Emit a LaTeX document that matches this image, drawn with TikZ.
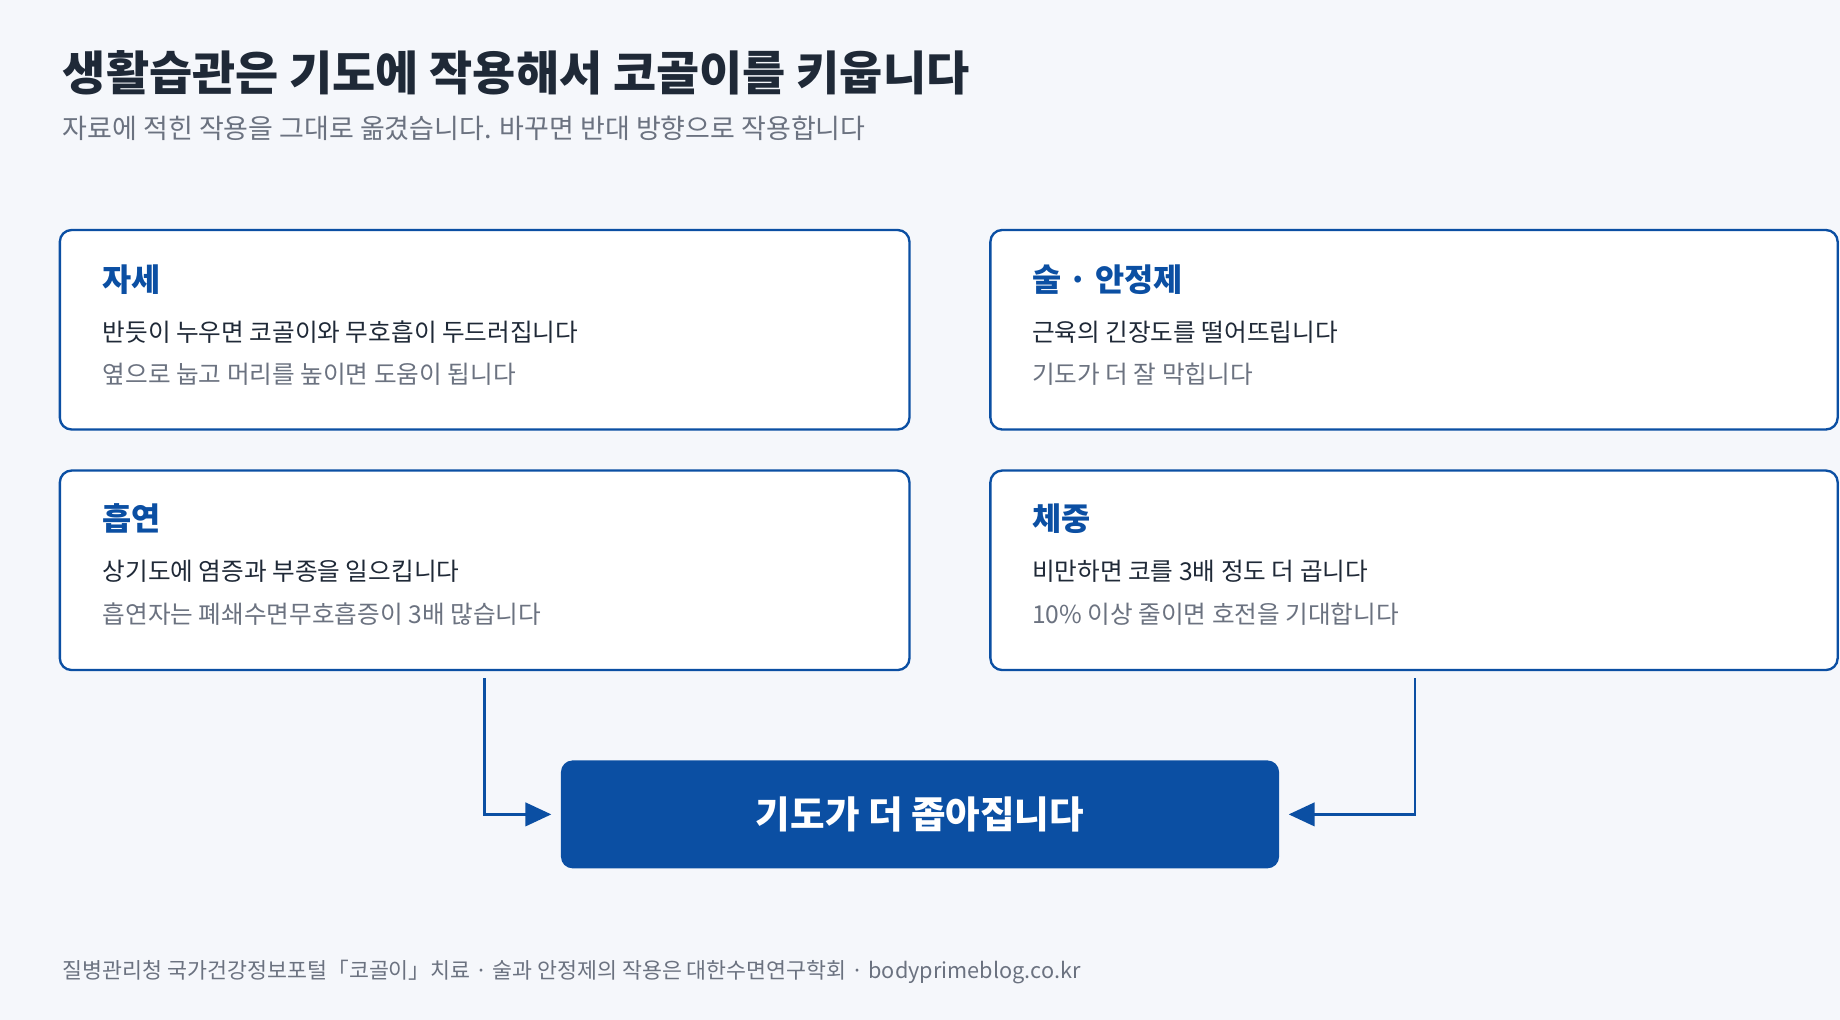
\documentclass[tikz,border=0pt]{standalone}
\usepackage{fontspec}
\setmainfont{Noto Sans CJK KR}
\usetikzlibrary{arrows.meta}
\definecolor{bg}{HTML}{F5F7FB}
\definecolor{navy}{HTML}{0B4FA3}
\definecolor{dark}{HTML}{1F2937}
\definecolor{gray}{HTML}{6B7280}
\begin{document}
\begin{tikzpicture}[x=1pt,y=-1pt,
 card/.style={draw=navy,line width=2pt,fill=white,rounded corners=10pt},
 ttl/.style={anchor=west,text=navy,font=\fontsize{27}{30}\selectfont\bfseries},
 l1/.style={anchor=west,text=dark,font=\fontsize{21}{24}\selectfont},
 l2/.style={anchor=west,text=gray,font=\fontsize{21}{24}\selectfont},
 arr/.style={draw=navy,line width=2pt,-{Triangle[length=22pt,width=20pt]}}]
\useasboundingbox[fill=bg] (0,0) rectangle (1568,869);
\node[anchor=west,text=dark,font=\fontsize{40}{44}\selectfont\bfseries] (t) at (50,62) {생활습관은 기도에 작용해서 코골이를 키웁니다};
\node[anchor=west,text=gray,font=\fontsize{23}{26}\selectfont] (st) at (50,109) {자료에 적힌 작용을 그대로 옮겼습니다. 바꾸면 반대 방향으로 작용합니다};
\draw[card] (51,196) rectangle (775,366); \node (c1) at (413,281) {};
\draw[card] (844,196) rectangle (1566,366); \node (c2) at (1206,281) {};
\draw[card] (51,401) rectangle (775,571); \node (c3) at (413,486) {};
\draw[card] (844,401) rectangle (1566,571); \node (c4) at (1206,486) {};
\node[ttl] at (84,238) {자세};
\node[l1] at (84,283) {반듯이 누우면 코골이와 무호흡이 두드러집니다};
\node[l2] at (84,319) {옆으로 눕고 머리를 높이면 도움이 됩니다};
\node[ttl] at (876,238) {술 · 안정제};
\node[l1] at (876,283) {근육의 긴장도를 떨어뜨립니다};
\node[l2] at (876,319) {기도가 더 잘 막힙니다};
\node[ttl] at (84,442) {흡연};
\node[l1] at (84,487) {상기도에 염증과 부종을 일으킵니다};
\node[l2] at (84,523) {흡연자는 폐쇄수면무호흡증이 3배 많습니다};
\node[ttl] at (876,442) {체중};
\node[l1] at (876,487) {비만하면 코를 3배 정도 더 곱니다};
\node[l2] at (876,523) {10\% 이상 줄이면 호전을 기대합니다};
\node[fill=navy,rounded corners=10pt,minimum width=612pt,minimum height=92pt,text=white,font=\fontsize{32}{36}\selectfont\bfseries] (out) at (784,694) {기도가 더 좁아집니다};
\coordinate (a1) at (413,578); \coordinate (a2) at (1206,578);
\draw[arr] (a1) |- ([xshift=-8pt]out.west);
\draw[arr] (a2) |- ([xshift=8pt]out.east);
\node[anchor=west,text=gray,font=\fontsize{18.5}{22}\selectfont] (f) at (50,828) {질병관리청 국가건강정보포털「코골이」치료 · 술과 안정제의 작용은 대한수면연구학회 · bodyprimeblog.co.kr};
\end{tikzpicture}
\end{document}
